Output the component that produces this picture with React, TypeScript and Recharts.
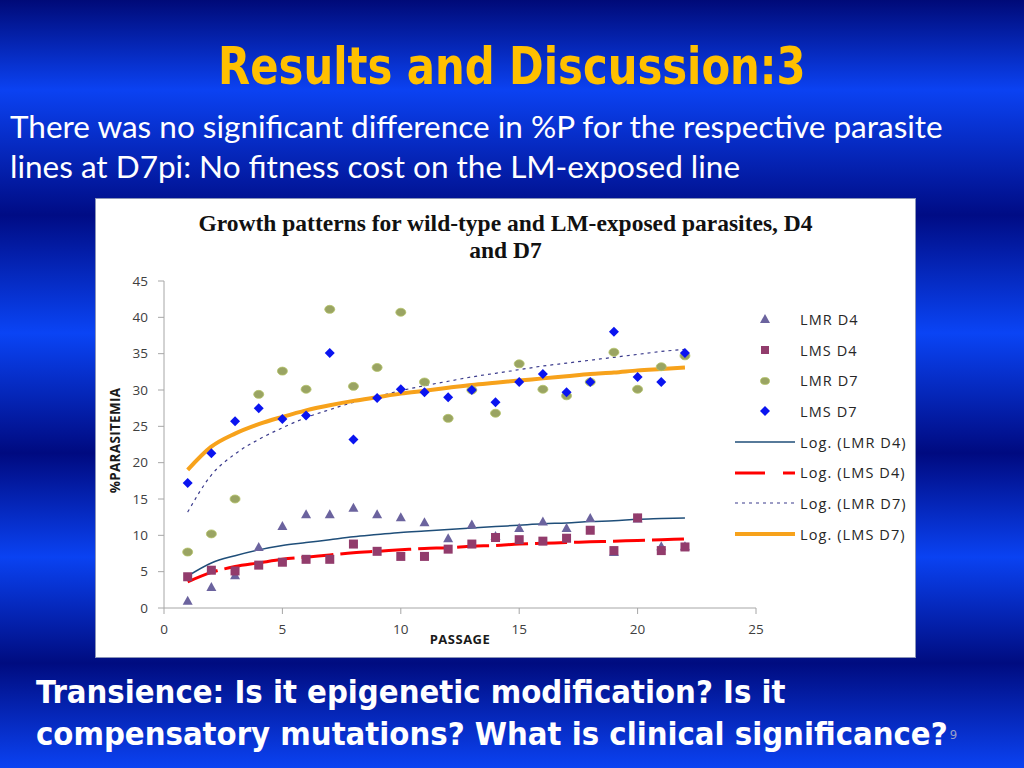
import { ComposedChart, Scatter, Line, XAxis, YAxis } from "recharts";

// passages (x axis)
const PASSAGES = [1, 2, 3, 4, 5, 6, 7, 8, 9, 10, 11, 12, 13, 14, 15, 16, 17, 18, 19, 20, 21, 22];

const LMR_D4 = [1.0, 2.9, 4.5, 8.4, 11.3, 12.9, 12.9, 13.8, 12.9, 12.5, 11.8, 9.6, 11.5, 9.9, 11.0, 11.9, 11.0, 12.4, 7.7, 12.3, 8.5, 8.5];
const LMS_D4 = [4.3, 5.2, 5.1, 5.9, 6.3, 6.7, 6.7, 8.8, 7.8, 7.1, 7.1, 8.1, 8.8, 9.7, 9.4, 9.2, 9.6, 10.7, 7.9, 12.4, 7.9, 8.4];
const LMR_D7 = [7.7, 10.2, 15.0, 29.4, 32.6, 30.1, 41.1, 30.5, 33.1, 40.7, 31.1, 26.1, 30.0, 26.8, 33.6, 30.1, 29.2, 31.1, 35.2, 30.1, 33.2, 34.7];
const LMS_D7 = [17.2, 21.3, 25.7, 27.5, 26.0, 26.5, 35.1, 23.2, 28.9, 30.1, 29.7, 29.0, 30.0, 28.3, 31.1, 32.2, 29.7, 31.1, 38.0, 31.8, 31.1, 35.1];

// log trendlines at each passage
const LOG_LMR_D4 = [4.4, 6.2, 7.2, 8.0, 8.6, 9.0, 9.4, 9.8, 10.1, 10.4, 10.6, 10.8, 11.0, 11.2, 11.4, 11.6, 11.7, 11.9, 12.0, 12.2, 12.3, 12.4];
const LOG_LMS_D4 = [3.6, 4.9, 5.7, 6.2, 6.7, 7.0, 7.3, 7.6, 7.8, 8.0, 8.2, 8.3, 8.5, 8.6, 8.8, 8.9, 9.0, 9.1, 9.2, 9.3, 9.4, 9.5];
const LOG_LMR_D7 = [13.2, 18.3, 21.2, 23.2, 24.8, 26.2, 27.3, 28.3, 29.1, 29.9, 30.6, 31.2, 31.8, 32.3, 32.8, 33.3, 33.7, 34.1, 34.5, 34.9, 35.3, 35.6];
const LOG_LMS_D7 = [19.0, 22.2, 24.0, 25.3, 26.3, 27.2, 27.9, 28.5, 29.0, 29.5, 29.9, 30.3, 30.7, 31.0, 31.3, 31.6, 31.9, 32.2, 32.4, 32.7, 32.9, 33.1];

const X_TICKS = [0, 5, 10, 15, 20, 25];
const Y_TICKS = [0, 5, 10, 15, 20, 25, 30, 35, 40, 45];

const rows = PASSAGES.map((p, i) => ({
  x: p,
  lmrD4: LMR_D4[i],
  lmsD4: LMS_D4[i],
  lmrD7: LMR_D7[i],
  lmsD7: LMS_D7[i],
  logLmrD4: LOG_LMR_D4[i],
  logLmsD4: LOG_LMS_D4[i],
  logLmrD7: LOG_LMR_D7[i],
  logLmsD7: LOG_LMS_D7[i],
}));

const C = {
  tri: "#6b639e",
  sq: "#923c6c",
  dot: "#9aa463",
  dia: "#0a14f0",
  lmrD4: "#1f4e79",
  lmsD4: "#ff0000",
  lmrD7: "#3b3b8c",
  lmsD7: "#f7a21b",
};

const tickFont = { fontFamily: "Open Sans", fontSize: 13.5, fill: "#404040" };

const Triangle = (p: any) => (
  <polygon points={`${p.cx},${p.cy - 5} ${p.cx + 5},${p.cy + 4} ${p.cx - 5},${p.cy + 4}`} fill={C.tri} />
);
const Square = (p: any) => <rect x={p.cx - 4.5} y={p.cy - 4.5} width={9} height={9} fill={C.sq} />;
const Dot = (p: any) => <ellipse cx={p.cx} cy={p.cy} rx={5} ry={4} fill={C.dot} stroke="#b5c46a" strokeWidth={0.8} />;
const Diamond = (p: any) => (
  <polygon points={`${p.cx},${p.cy - 5} ${p.cx + 5},${p.cy} ${p.cx},${p.cy + 5} ${p.cx - 5},${p.cy}`} fill={C.dia} />
);

const legendItems = [
  { label: "LMR D4", kind: "tri" },
  { label: "LMS D4", kind: "sq" },
  { label: "LMR D7", kind: "dot" },
  { label: "LMS D7", kind: "dia" },
  { label: "Log. (LMR D4)", kind: "lmrD4" },
  { label: "Log. (LMS D4)", kind: "lmsD4" },
  { label: "Log. (LMR D7)", kind: "lmrD7" },
  { label: "Log. (LMS D7)", kind: "lmsD7" },
];

function LegendSymbol({ kind }: { kind: string }) {
  const cx = 30;
  const cy = 8;
  let el: any = null;
  if (kind === "tri") el = <Triangle cx={cx} cy={cy} />;
  else if (kind === "sq") el = <rect x={cx - 4} y={cy - 4} width={8} height={8} fill={C.sq} />;
  else if (kind === "dot") el = <ellipse cx={cx} cy={cy} rx={4.5} ry={3.5} fill={C.dot} stroke="#b5c46a" strokeWidth={0.8} />;
  else if (kind === "dia") el = <Diamond cx={cx} cy={cy} />;
  else if (kind === "lmrD4") el = <line x1={0} x2={60} y1={cy} y2={cy} stroke={C.lmrD4} strokeWidth={1.5} />;
  else if (kind === "lmsD4")
    el = (
      <g stroke={C.lmsD4} strokeWidth={3}>
        <line x1={0} x2={30} y1={cy} y2={cy} />
        <line x1={48} x2={60} y1={cy} y2={cy} />
      </g>
    );
  else if (kind === "lmrD7")
    el = <line x1={0} x2={60} y1={cy} y2={cy} stroke={C.lmrD7} strokeWidth={1.2} strokeDasharray="3 4" />;
  else el = <line x1={0} x2={60} y1={cy} y2={cy} stroke={C.lmsD7} strokeWidth={4} />;
  return (
    <svg width={60} height={16} style={{ display: "block" }}>
      {el}
    </svg>
  );
}

function ChartLegend() {
  return (
    <div style={{ position: "absolute", left: 640, top: 106, width: 180 }}>
      {legendItems.map((it) => (
        <div key={it.label} style={{ height: 30.7, display: "flex", alignItems: "center" }}>
          <LegendSymbol kind={it.kind} />
          <span style={{ marginLeft: 5, fontFamily: "Open Sans", fontSize: 14.5, color: "#262626", letterSpacing: 1.1 }}>
            {it.label}
          </span>
        </div>
      ))}
    </div>
  );
}

const YLabel = (props: any) => {
  const vb = props.viewBox;
  const cy = vb.y + vb.height / 2 - 4;
  return (
    <text
      x={20}
      y={cy}
      transform={`rotate(-90 20 ${cy})`}
      textAnchor="middle"
      dominantBaseline="central"
      fontFamily="Open Sans"
      fontWeight={700}
      fontSize={13.5}
      letterSpacing={0.3}
      fill="#1a1a1a"
    >
      %PARASITEMIA
    </text>
  );
};

function GrowthChart() {
  return (
    <ComposedChart width={821} height={460} data={rows} margin={{ top: 83, right: 160, bottom: 20, left: 5 }}>
      <XAxis
        type="number"
        dataKey="x"
        domain={[0, 25]}
        ticks={X_TICKS}
        tickSize={6}
        tickMargin={10}
        tick={tickFont}
        stroke="#a6a6a6"
        height={30}
        label={{ value: "PASSAGE", position: "bottom", offset: -3, style: { fontFamily: "Open Sans", fontWeight: 700, fontSize: 13, fill: "#1a1a1a", letterSpacing: 0.5 } }}
      />
      <YAxis
        type="number"
        domain={[0, 45]}
        ticks={Y_TICKS}
        tickSize={6}
        tickMargin={10}
        tick={tickFont}
        stroke="#a6a6a6"
        width={64}
        label={<YLabel />}
      />
      <Line dataKey="logLmrD7" type="monotone" dot={false} stroke={C.lmrD7} strokeWidth={1.2} strokeDasharray="3 4" isAnimationActive={false} />
      <Line dataKey="logLmsD7" type="monotone" dot={false} stroke={C.lmsD7} strokeWidth={4} isAnimationActive={false} />
      <Scatter dataKey="lmrD7" shape={Dot} isAnimationActive={false} />
      <Scatter dataKey="lmsD7" shape={Diamond} isAnimationActive={false} />
      <Scatter dataKey="lmrD4" shape={Triangle} isAnimationActive={false} />
      <Scatter dataKey="lmsD4" shape={Square} isAnimationActive={false} />
      <Line dataKey="logLmrD4" type="monotone" dot={false} stroke={C.lmrD4} strokeWidth={1.5} isAnimationActive={false} />
      <Line dataKey="logLmsD4" type="monotone" dot={false} stroke={C.lmsD4} strokeWidth={3} strokeDasharray="32 7" isAnimationActive={false} />
    </ComposedChart>
  );
}

const BG =
  "linear-gradient(to bottom, #000a78 0px, #0b42f2 90px, #000c85 215px, #0a44f5 333px, #000a80 453px, #0a42f2 557px, #000c80 663px, #0b42f2 768px)";

export default function App() {
  return (
    <div style={{ position: "absolute", left: 0, top: 0, width: 1024, height: 768, background: BG, overflow: "hidden" }}>
      <div
        style={{
          position: "absolute",
          left: 0,
          width: 1024,
          top: 37,
          textAlign: "center",
          fontFamily: "DejaVu Sans Condensed",
          fontWeight: 700,
          fontSize: 51,
          lineHeight: "60px",
          color: "#ffc000",
        }}
      >
        <span style={{ display: "inline-block", transform: "scaleX(0.91)" }}>Results and Discussion:3</span>
      </div>
      <div
        style={{
          position: "absolute",
          left: 10,
          top: 106,
          fontFamily: "Lato",
          fontSize: 31.5,
          lineHeight: "40px",
          color: "#ffffff",
        }}
      >
        <div>There was no significant difference in %P for the respective parasite</div>
        <div>lines at D7pi: No fitness cost on the LM-exposed line</div>
      </div>
      <div
        style={{
          position: "absolute",
          left: 95,
          top: 198,
          width: 821,
          height: 460,
          background: "#ffffff",
          boxShadow: "inset 0 0 0 1px #8a94b8",
        }}
      >
        <div
          style={{
            position: "absolute",
            left: 0,
            width: 821,
            top: 12,
            textAlign: "center",
            fontFamily: "Liberation Serif",
            fontWeight: 700,
            fontSize: 23.5,
            lineHeight: "27px",
            color: "#111111",
            zIndex: 1,
          }}
        >
          <div>Growth patterns for wild-type and LM-exposed parasites, D4</div>
          <div>and D7</div>
        </div>
        <GrowthChart />
        <ChartLegend />
      </div>
      <div
        style={{
          position: "absolute",
          left: 36,
          top: 671,
          fontFamily: "DejaVu Sans Condensed",
          fontWeight: 700,
          fontSize: 32.5,
          lineHeight: "42px",
          color: "#ffffff",
        }}
      >
        <div>Transience: Is it epigenetic modification? Is it</div>
        <div>
          compensatory mutations? What is clinical significance?
          <span style={{ fontSize: 13, fontWeight: 400, color: "#9aa0c8", verticalAlign: "6px", marginLeft: 2 }}>9</span>
        </div>
      </div>
    </div>
  );
}
